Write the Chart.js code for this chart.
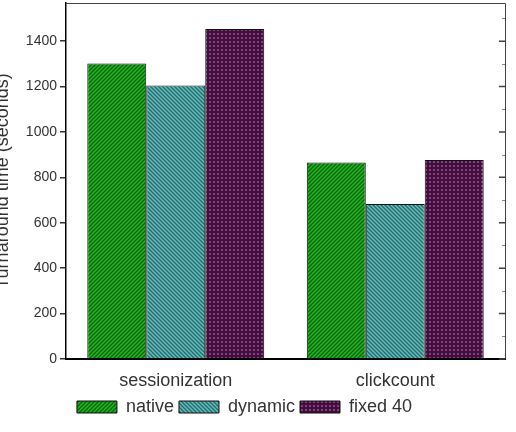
<!DOCTYPE html>
<html>
<head>
<meta charset="utf-8">
<script src="https://cdn.jsdelivr.net/npm/chart.js@4.4.1/dist/chart.umd.min.js"></script>
<style>
html,body{margin:0;padding:0;background:#fff;}
#wrap{width:516px;height:432px;}
</style>
</head>
<body>
<div id="wrap"><canvas id="c" width="516" height="432"></canvas></div>
<script>
const categories = ['sessionization', 'clickcount'];
const seriesNames = ['native', 'dynamic', 'fixed 40'];
const nativeValues = [1302, 865];
const dynamicValues = [1205, 683];
const fixed40Values = [1453, 876];
const yTickValues = [0, 200, 400, 600, 800, 1000, 1200, 1400];
const yMinorValues = [100, 300, 500, 700, 900, 1100, 1300, 1500];
const yMax = 1568;

function makePattern(kind) {
  const s = 4;
  const c = document.createElement('canvas');
  c.width = s; c.height = s;
  const g = c.getContext('2d');
  if (kind === 'native') {
    g.fillStyle = '#22b422'; g.fillRect(0, 0, s, s);
    g.strokeStyle = '#0a640a'; g.lineWidth = 1.3;
    g.beginPath();
    g.moveTo(0, s); g.lineTo(s, 0);
    g.moveTo(-1, 1); g.lineTo(1, -1);
    g.moveTo(s - 1, s + 1); g.lineTo(s + 1, s - 1);
    g.stroke();
  } else if (kind === 'dynamic') {
    g.fillStyle = '#66bcbc'; g.fillRect(0, 0, s, s);
    g.strokeStyle = '#256a6a'; g.lineWidth = 1.3;
    g.beginPath();
    g.moveTo(0, 0); g.lineTo(s, s);
    g.moveTo(s - 1, -1); g.lineTo(s + 1, 1);
    g.moveTo(-1, s - 1); g.lineTo(1, s + 1);
    g.stroke();
  } else {
    g.fillStyle = '#3e103b'; g.fillRect(0, 0, s, s);
    g.fillStyle = '#8c3c84'; g.fillRect(1, 1, 2, 2);
  }
  return g.createPattern(c, 'repeat');
}

const frame = {
  id: 'frame',
  afterDraw(chart) {
    const ctx = chart.ctx, a = chart.chartArea, y = chart.scales.y;
    ctx.save();
    ctx.strokeStyle = '#444';
    ctx.lineWidth = 1;
    ctx.beginPath();
    ctx.moveTo(a.left, a.top + 0.5); ctx.lineTo(a.right + 0.5, a.top + 0.5);
    ctx.lineTo(a.right + 0.5, a.bottom);
    ctx.stroke();
    ctx.lineWidth = 1.5;
    ctx.beginPath();
    yTickValues.forEach(v => {
      const p = y.getPixelForValue(v);
      ctx.moveTo(a.right, p); ctx.lineTo(a.right - 6, p);
    });
    ctx.stroke();
    ctx.lineWidth = 1;
    ctx.strokeStyle = '#888';
    ctx.beginPath();
    yMinorValues.forEach(v => {
      const p = Math.round(y.getPixelForValue(v)) + 0.5;
      ctx.moveTo(a.right, p); ctx.lineTo(a.right - 3, p);
    });
    ctx.stroke();
    ctx.restore();
  }
};

const legendShift = {
  id: 'legendShift',
  afterLayout(chart) {
    if (chart.legend) { chart.legend.left -= 8; chart.legend.right -= 8; }
  }
};

const FONT = "'Liberation Sans', Arial, sans-serif";
const TXT = '#333';

new Chart(document.getElementById('c'), {
  type: 'bar',
  data: {
    labels: categories,
    datasets: [
      { label: seriesNames[0], data: nativeValues, backgroundColor: makePattern('native'), borderColor: '#111', borderWidth: 1 },
      { label: seriesNames[1], data: dynamicValues, backgroundColor: makePattern('dynamic'), borderColor: '#111', borderWidth: 1 },
      { label: seriesNames[2], data: fixed40Values, backgroundColor: makePattern('fixed'), borderColor: '#111', borderWidth: 1 }
    ]
  },
  options: {
    responsive: false,
    animation: false,
    devicePixelRatio: 1,
    layout: { padding: { left: 0, right: 11, top: 3, bottom: 6 } },
    datasets: { bar: { categoryPercentage: 0.806, barPercentage: 1.0 } },
    plugins: {
      legend: {
        position: 'bottom',
        labels: { boxWidth: 40, boxHeight: 12, padding: 5, color: TXT, font: { family: FONT, size: 18 } }
      },
      tooltip: { enabled: false }
    },
    scales: {
      x: {
        grid: { display: false },
        border: { display: true, color: '#000', width: 2 },
        ticks: { color: TXT, padding: 3, font: { family: FONT, size: 18 } },
        afterFit(s) { s.height = 34; s.paddingLeft = 0; s.paddingRight = 0; }
      },
      y: {
        min: 0, max: yMax,
        grid: { drawOnChartArea: false, tickLength: 6, color: '#333', lineWidth: 1.5 },
        border: { display: true, color: '#000', width: 1.5 },
        ticks: { color: TXT, padding: 3, font: { family: FONT, size: 14 }, callback: v => String(v) },
        afterBuildTicks(s) { s.ticks = yTickValues.map(v => ({ value: v })); },
        title: { display: true, text: 'Turnaround time (seconds)', color: TXT, font: { family: FONT, size: 18, lineHeight: 1 }, padding: { top: -6, bottom: 0 } },
        afterFit(s) { s.width = 66; s.paddingTop = 0; s.paddingBottom = 0; }
      }
    }
  },
  plugins: [frame, legendShift]
});
</script>
</body>
</html>
